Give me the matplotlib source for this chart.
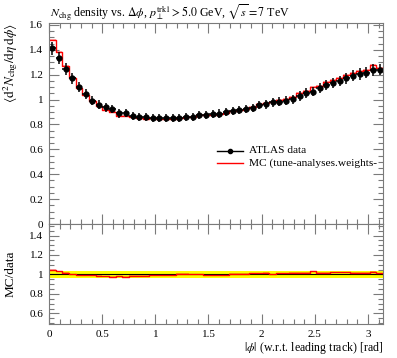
import numpy as np
import matplotlib
matplotlib.use("Agg")
import matplotlib.pyplot as plt
from matplotlib.ticker import MultipleLocator

plt.rcParams['font.family'] = ['Liberation Serif', 'DejaVu Serif']
plt.rcParams['mathtext.fontset'] = 'stix'

# ---- data ----
n_bins = 50
bin_edges = np.linspace(0, np.pi, n_bins + 1)

data_vals = [1.412, 1.336, 1.246, 1.171, 1.099, 1.042, 0.990, 0.958, 0.937, 0.923,
             0.888, 0.895, 0.868, 0.863, 0.857, 0.852, 0.850, 0.848, 0.849, 0.850,
             0.857, 0.863, 0.872, 0.876, 0.882, 0.887, 0.899, 0.906, 0.916, 0.926,
             0.933, 0.955, 0.962, 0.977, 0.983, 0.991, 1.002, 1.030, 1.050, 1.064,
             1.090, 1.117, 1.131, 1.150, 1.171, 1.190, 1.206, 1.216, 1.238, 1.240]
data_errs = [0.052, 0.049, 0.046, 0.043, 0.041, 0.039, 0.037, 0.035, 0.035, 0.034,
             0.033, 0.033, 0.032, 0.032, 0.032, 0.032, 0.032, 0.032, 0.032, 0.032,
             0.032, 0.032, 0.032, 0.032, 0.033, 0.033, 0.033, 0.034, 0.034, 0.034,
             0.035, 0.035, 0.036, 0.036, 0.036, 0.037, 0.037, 0.038, 0.039, 0.039,
             0.040, 0.041, 0.042, 0.043, 0.043, 0.044, 0.045, 0.045, 0.046, 0.046]
mc_vals = [1.477, 1.380, 1.270, 1.171, 1.094, 1.037, 0.985, 0.947, 0.918, 0.896,
           0.870, 0.869, 0.858, 0.853, 0.847, 0.848, 0.846, 0.844, 0.845, 0.854,
           0.861, 0.863, 0.872, 0.872, 0.878, 0.883, 0.895, 0.908, 0.918, 0.928,
           0.944, 0.966, 0.974, 0.977, 0.995, 1.003, 1.021, 1.050, 1.070, 1.099,
           1.111, 1.138, 1.156, 1.175, 1.197, 1.213, 1.229, 1.239, 1.275, 1.255]
mc_errs = [0.008] * n_bins

data = np.array(data_vals)
derr = np.array(data_errs)
mc = np.array(mc_vals)
mcerr = np.array(mc_errs)
centers = 0.5 * (bin_edges[:-1] + bin_edges[1:])
halfw = 0.5 * np.diff(bin_edges)

title = (r"$N_{\mathrm{chg}}$ density vs. $\Delta\phi$, $p_{\perp}^{\mathrm{trk1}} > 5.0$ GeV, "
         r"$\sqrt{s} = 7$ TeV")
ylabel_main = r"$\langle \mathrm{d}^2 N_{\mathrm{chg}} / \mathrm{d}\eta\,\mathrm{d}\phi \rangle$"
ylabel_ratio = "MC/data"
xlabel = r"$|\phi|$ (w.r.t. leading track) [rad]"
legend_labels = ["ATLAS data", "MC (tune-analyses.weights-"]

W, H = 397, 358
fig = plt.figure(figsize=(W / 100, H / 100), dpi=100)
ax = fig.add_axes([49 / W, (H - 224) / H, 334 / W, 201 / H])
axr = fig.add_axes([49 / W, (H - 324) / H, 334 / W, 100 / H], sharex=ax)

axcol = '#7a7a7a'
for a in (ax, axr):
    for s in a.spines.values():
        s.set_color(axcol)
        s.set_linewidth(0.8)
    a.tick_params(which='both', direction='in', top=True, right=True,
                  color=axcol, width=0.8, labelsize=8, pad=4)
    a.tick_params(which='major', length=7.2)
    a.tick_params(which='minor', length=3.6)
    a.xaxis.set_major_locator(MultipleLocator(0.5))
    a.xaxis.set_minor_locator(MultipleLocator(0.1))

# main panel
mc_step = np.append(mc, mc[-1])
ax.fill_between(bin_edges, np.append(mc - mcerr, mc[-1] - mcerr[-1]),
                np.append(mc + mcerr, mc[-1] + mcerr[-1]), step='post',
                color='red', alpha=0.3, lw=0)
ax.step(bin_edges, mc_step, where='post', color='red', lw=1.0)
ax.errorbar(centers, data, yerr=derr, xerr=halfw, fmt='o', color='black',
            ms=3.5, elinewidth=1.1, capsize=0)
ax.set_xlim(0, np.pi)
ax.set_ylim(0, 1.615)
ax.yaxis.set_minor_locator(MultipleLocator(0.05))
ax.set_yticks([0, 0.2, 0.4, 0.6, 0.8, 1.0, 1.2, 1.4, 1.6])
ax.set_yticklabels(['0', '0.2', '0.4', '0.6', '0.8', '1', '1.2', '1.4', '1.6'])
plt.setp(ax.get_xticklabels(), visible=False)

# legend (manual)
lx0, lx1, ly0, ly1, tx = 0.502, 0.581, 0.365, 0.302, 0.60
ax.plot([lx0, lx1], [ly0, ly0], transform=ax.transAxes, color='black', lw=1.0, clip_on=False)
ax.plot([(lx0 + lx1) / 2], [ly0], 'o', transform=ax.transAxes, color='black', ms=3, clip_on=False)
ax.plot([lx0, lx1], [ly1, ly1], transform=ax.transAxes, color='red', lw=1.0, clip_on=False)
ax.text(tx, ly0, legend_labels[0], transform=ax.transAxes, va='center', ha='left', fontsize=8.2)
ax.text(tx, ly1, legend_labels[1], transform=ax.transAxes, va='center', ha='left', fontsize=8.2,
        clip_on=False)

fig.text(50 / W, 1 - 12 / H, title, ha='left', va='center', fontsize=8.6)
fig.text(10.5 / W, 1 - 23 / H, ylabel_main, rotation=90, ha='center', va='top', fontsize=9.5)

# ratio panel
ratio = mc / data
rel = derr / data
axr.fill_between(bin_edges, np.append(1 - rel, 1 - rel[-1]), np.append(1 + rel, 1 + rel[-1]),
                 step='post', color='#ffff00', lw=0)
axr.plot([0, np.pi], [1, 1], color='black', lw=0.8)
rerr = mcerr / data
axr.fill_between(bin_edges, np.append(ratio - rerr, ratio[-1] - rerr[-1]),
                 np.append(ratio + rerr, ratio[-1] + rerr[-1]), step='post',
                 color='red', alpha=0.3, lw=0)
axr.step(bin_edges, np.append(ratio, ratio[-1]), where='post', color='red', lw=1.0)
axr.set_ylim(0.492, 1.518)
axr.set_yticks([0.6, 0.8, 1.0, 1.2, 1.4])
axr.set_yticklabels(['0.6', '0.8', '1', '1.2', '1.4'])
axr.yaxis.set_minor_locator(MultipleLocator(0.05))
axr.set_xticks([0, 0.5, 1, 1.5, 2, 2.5, 3])
axr.set_xticklabels(['0', '0.5', '1', '1.5', '2', '2.5', '3'])
axr.set_xlim(0, np.pi)
fig.text(10.5 / W, 1 - 274 / H, ylabel_ratio, rotation=90, ha='center', va='center', fontsize=9.5)
fig.text(384 / W, 1 - 348 / H, xlabel, ha='right', va='center', fontsize=8.6)

fig.savefig('out.png', dpi=100)
